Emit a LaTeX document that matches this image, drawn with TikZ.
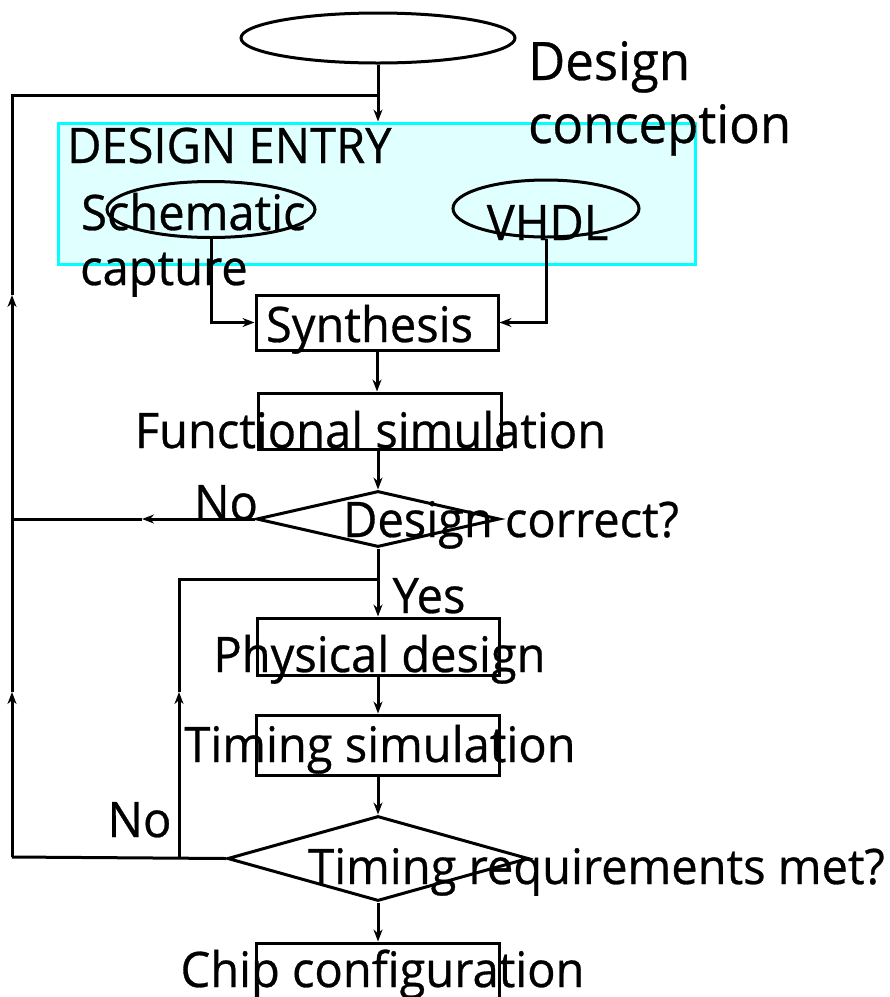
\documentclass[tikz,border=0pt]{standalone}
\usepackage{fontspec}
\setmainfont{Open Sans}[FakeStretch=0.96,FakeBold=0.6]
\usetikzlibrary{shapes.geometric,arrows.meta}
\definecolor{entryfill}{RGB}{224,255,255}
\definecolor{entryline}{RGB}{0,255,255}
\tikzset{
  flow/.style={line width=3pt, black},
  arr/.style={flow, -{Stealth[length=12pt,width=9pt]}},
  boxn/.style={draw, line width=3pt, rectangle, inner sep=0pt},
  elln/.style={draw, line width=3pt, ellipse, inner sep=0pt},
  decn/.style={draw, line width=3pt, diamond, inner sep=0pt, aspect=1},
  lbl/.style={inner sep=0pt, font=\fontsize{49}{58}\selectfont},
  biglbl/.style={inner sep=0pt, font=\fontsize{53}{62}\selectfont},
}
\begin{document}
\begin{tikzpicture}[x=1pt,y=-1pt]
\useasboundingbox (0,0) rectangle (890,997);

% shapes
\node[elln, minimum width=274pt, minimum height=50pt] (start) at (378,38) {};
\node[draw=entryline, fill=entryfill, line width=3pt, rectangle, inner sep=0pt,
      minimum width=637pt, minimum height=141pt] (entry) at (377,193.5) {};
\node[elln, minimum width=208pt, minimum height=56pt] (sch) at (211,209.5) {};
\node[elln, minimum width=186pt, minimum height=57pt] (vhdl) at (546,208.5) {};
\node[boxn, minimum width=242pt, minimum height=55pt] (syn) at (377,322.5) {};
\node[boxn, minimum width=243pt, minimum height=56pt] (fun) at (379.5,421) {};
\node[decn, minimum width=243pt, minimum height=56pt] (d1) at (378,519) {};
\node[boxn, minimum width=242pt, minimum height=57pt] (phy) at (378,646.5) {};
\node[boxn, minimum width=243pt, minimum height=60pt] (tim) at (377.5,745) {};
\node[decn, minimum width=301pt, minimum height=85pt] (d2) at (378,858.5) {};
\node[boxn, minimum width=243pt, minimum height=60pt] (chip) at (377.5,973) {};

% helper points of the feedback loops
\coordinate (tl) at (12,95);
\coordinate (bl) at (12,857);
\coordinate (j1) at (378,95);
\coordinate (la1) at (12,295);
\coordinate (la2) at (12,692);
\coordinate (nl) at (12,519);
\coordinate (na) at (142,519);
\coordinate (ib) at (179,857);
\coordinate (ia) at (179,692);
\coordinate (it) at (179,579);
\coordinate (ij) at (378,579);

% main flow
\draw[arr] (start.south) -- (start.south |- entry.north);
\draw[arr] (sch.south) |- (syn.west);
\draw[arr] (vhdl.south) |- (syn.east);
\draw[arr] (syn.south) -- (syn.south |- fun.north);
\draw[arr] (fun.south -| d1.north) -- (d1.north);
\draw[arr] (d1.south) -- (phy.north);
\draw[arr] (phy.south) -- (phy.south |- tim.north);
\draw[arr] (tim.south -| d2.north) -- (d2.north);
\draw[arr] (d2.south) -- (d2.south |- chip.north);

% outer loop back to design entry
\draw[flow] (d2.west) -- (bl);
\draw[arr] (bl) -- (la2);
\draw[arr] (la2) -- (la1);
\draw[flow] (la1) -- (tl) -- (j1);
\draw[arr] (d1.west) -- (na);
\draw[flow] (na) -- (nl);

% inner loop back to physical design
\draw[arr] (ib) -- (ia);
\draw[flow] (ia) -- (it) -- (ij);

% labels
\node[biglbl, anchor=base west] (tdesign) at (528,80) {Design};
\node[biglbl, anchor=base west] (tconc) at (528,143) {conception};
\node[lbl, anchor=base west] (tentry) at (67,163) {DESIGN ENTRY};
\node[lbl, anchor=base west] (tsch) at (81,230) {Schematic};
\node[lbl, anchor=base west] (tcap) at (80,285) {capture};
\node[lbl, anchor=base] (tvhdl) at (547.5,240) {VHDL};
\node[lbl, anchor=base] (tsyn) at (369.5,342) {Synthesis};
\node[lbl, anchor=base] (tfun) at (370.5,448) {Functional simulation};
\node[lbl, anchor=base] (tno1) at (226,520) {No};
\node[lbl, anchor=base] (tdc) at (511,537) {Design correct?};
\node[lbl, anchor=base] (tyes) at (429,613) {Yes};
\node[lbl, anchor=base] (tphy) at (379.5,672) {Physical design};
\node[lbl, anchor=base] (ttim) at (380,762) {Timing simulation};
\node[lbl, anchor=base] (tno2) at (139.5,837) {No};
\node[lbl, anchor=base] (ttr) at (596.5,884) {Timing requirements met?};
\node[lbl, anchor=base] (tchip) at (382.5,987) {Chip configuration};
\end{tikzpicture}
\end{document}
